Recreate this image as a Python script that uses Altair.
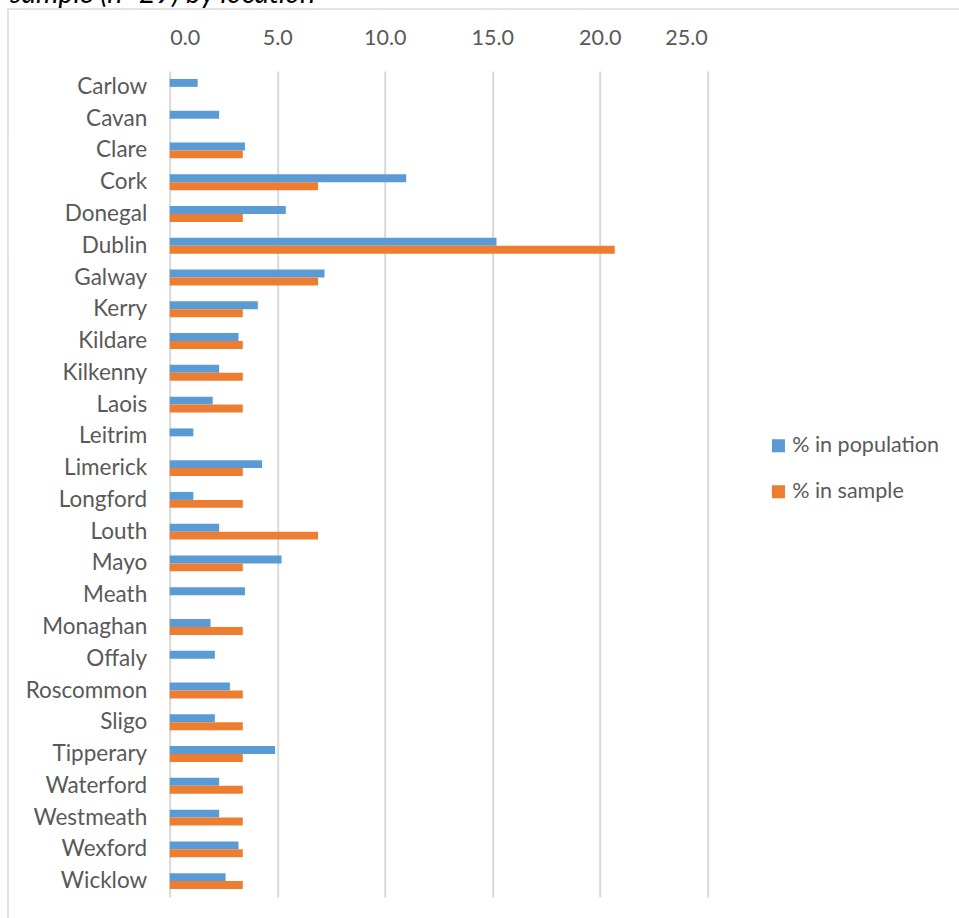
import altair as alt
import pandas as pd

# County share of population vs. share of the survey sample (%)
counties = [
    "Carlow", "Cavan", "Clare", "Cork", "Donegal", "Dublin", "Galway", "Kerry",
    "Kildare", "Kilkenny", "Laois", "Leitrim", "Limerick", "Longford", "Louth",
    "Mayo", "Meath", "Monaghan", "Offaly", "Roscommon", "Sligo", "Tipperary",
    "Waterford", "Westmeath", "Wexford", "Wicklow",
]
pct_population = [
    1.3, 2.3, 3.5, 11.0, 5.4, 15.2, 7.2, 4.1,
    3.2, 2.3, 2.0, 1.1, 4.3, 1.1, 2.3,
    5.2, 3.5, 1.9, 2.1, 2.8, 2.1, 4.9,
    2.3, 2.3, 3.2, 2.6,
]
pct_sample = [
    0.0, 0.0, 3.4, 6.9, 3.4, 20.7, 6.9, 3.4,
    3.4, 3.4, 3.4, 0.0, 3.4, 3.4, 6.9,
    3.4, 0.0, 3.4, 0.0, 3.4, 3.4, 3.4,
    3.4, 3.4, 3.4, 3.4,
]
series = ["% in population", "% in sample"]
colors = ["#5B9BD5", "#ED7D31"]
x_ticks = [0, 5, 10, 15, 20, 25]
title_text = ["sample (n=29) by location"]

rows = []
for c, p, s in zip(counties, pct_population, pct_sample):
    rows.append({"county": c, "series": series[0], "value": p})
    rows.append({"county": c, "series": series[1], "value": s})
df = pd.DataFrame(rows)

FONT = "Lato"
GREY = "#595959"
GRID = "#D9D9D9"

bars = alt.Chart(df).mark_bar().encode(
    x=alt.X(
        "value:Q",
        scale=alt.Scale(domain=[0, 25], nice=False),
        axis=alt.Axis(
            orient="top", values=x_ticks, format=".1f", title=None,
            domain=False, ticks=False, grid=True, gridColor=GRID,
            gridWidth=2, labelPadding=22, labelFontSize=21.5,
            labelColor=GREY, labelFont=FONT,
        ),
    ),
    y=alt.Y(
        "county:N", sort=counties, title=None,
        scale=alt.Scale(paddingInner=0.5, paddingOuter=0.25),
        axis=alt.Axis(
            domain=False, ticks=False, labelPadding=23, labelFontSize=22.5,
            labelColor=GREY, labelFont=FONT,
        ),
    ),
    yOffset=alt.YOffset("series:N", sort=series),
    color=alt.Color(
        "series:N", sort=series,
        scale=alt.Scale(domain=series, range=colors),
        legend=alt.Legend(
            title=None, orient="none", legendX=598, legendY=364,
            symbolType="square", symbolSize=170, symbolStrokeWidth=0,
            labelFontSize=21.5, labelColor=GREY, labelFont=FONT,
            rowPadding=23, labelOffset=3,
        ),
    ),
)

# light outer frame around the chart area
frame = alt.Chart(pd.DataFrame({"f": [0]})).mark_rect(
    fillOpacity=0, stroke=GRID, strokeWidth=1.5
).encode(
    x=alt.value(-161.7), x2=alt.value(900),
    y=alt.value(-62), y2=alt.value(900),
)

# italic caption running off the top edge of the page
caption = alt.Chart(pd.DataFrame({"t": title_text})).mark_text(
    align="left", baseline="alphabetic", font=FONT, fontStyle="italic",
    fontSize=28.5, color="black",
).encode(
    text="t:N",
    x=alt.value(-159.7),
    y=alt.value(-68),
)

chart = alt.layer(frame, bars, caption).properties(
    width=537.5,
    height=826,
    autosize=alt.AutoSizeParams(type="none"),
    padding={"left": 169.7, "top": 71, "right": 251.8, "bottom": 21},
).configure_view(stroke=None)

chart.save("out.html", embed_options={"renderer": "svg", "actions": False})
